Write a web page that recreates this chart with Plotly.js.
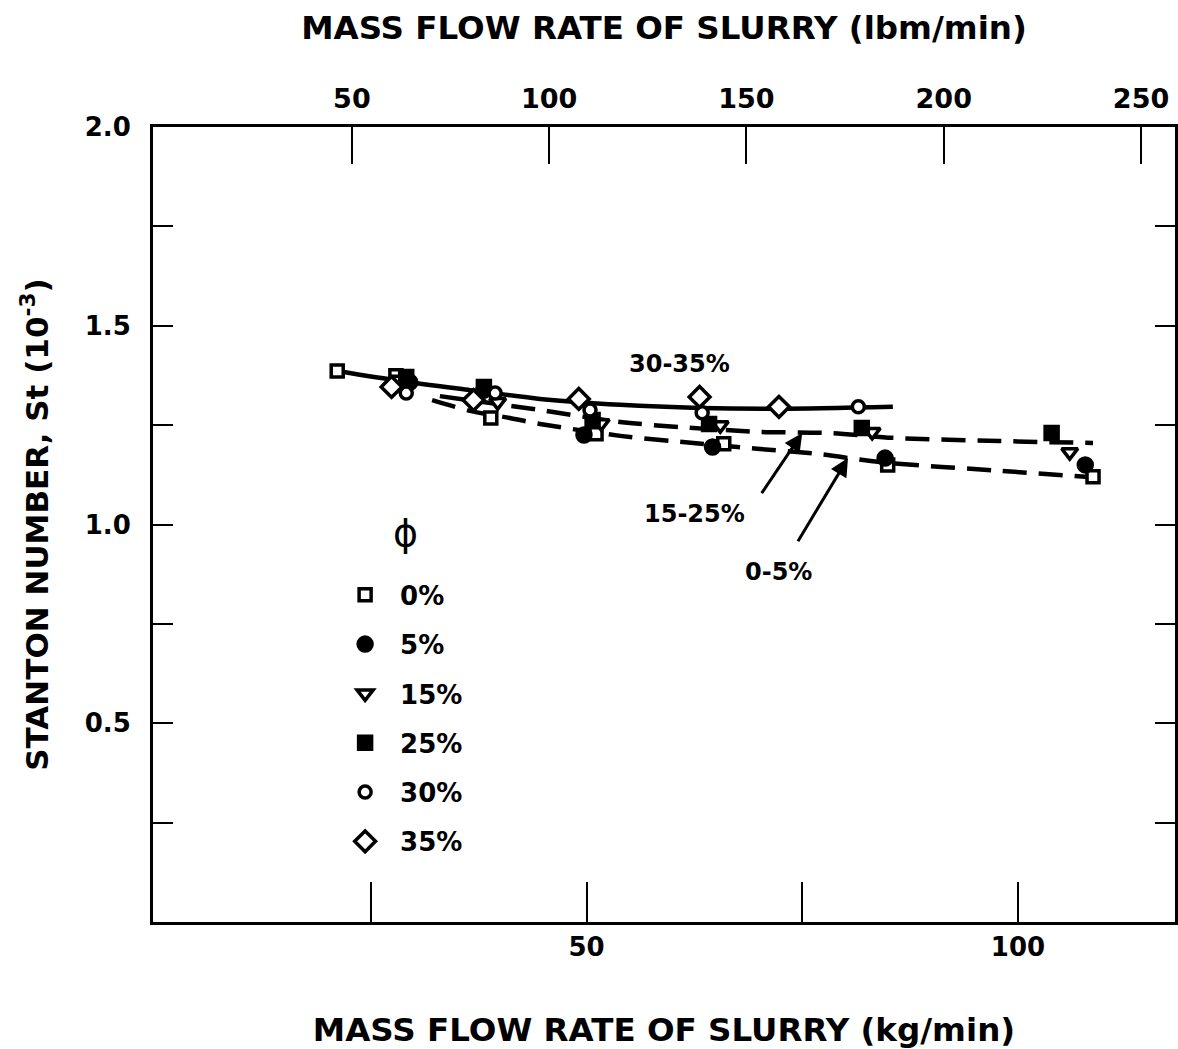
<!DOCTYPE html>
<html><head><meta charset="utf-8">
<script src="https://cdn.plot.ly/plotly-3.0.1.min.js"></script>
<style>html,body{margin:0;padding:0;background:#fff}</style>
</head><body><div id="chart" style="width:1178px;height:1049px"></div>
<script>
// Mass flow rate of slurry (kg/min) and Stanton number (x 10^-3), by solids fraction phi
const phi0_x  = [21.1, 27.9, 38.9, 51.1, 65.9, 84.9, 108.7];
const phi0_y  = [1.386, 1.374, 1.268, 1.228, 1.203, 1.150, 1.120];
const phi5_x  = [29.5, 38.1, 49.7, 64.6, 84.6, 107.8];
const phi5_y  = [1.358, 1.338, 1.225, 1.195, 1.167, 1.150];
const phi15_x = [28.4, 39.7, 51.7, 65.5, 83.1, 106.0];
const phi15_y = [1.364, 1.308, 1.255, 1.250, 1.233, 1.182];
const phi25_x = [29.1, 38.1, 50.7, 64.2, 81.9, 103.9];
const phi25_y = [1.371, 1.346, 1.263, 1.253, 1.243, 1.230];
const phi30_x = [29.1, 39.4, 50.4, 63.4, 81.5];
const phi30_y = [1.331, 1.331, 1.288, 1.281, 1.296];
const phi35_x = [27.4, 36.9, 49.1, 63.1, 72.3];
const phi35_y = [1.346, 1.313, 1.316, 1.321, 1.296];

// fitted curves
const fit3035_x = [21.1, 28.4, 36.5, 44.6, 53.9, 63.1, 72.4, 85.5];
const fit3035_y = [1.386, 1.361, 1.338, 1.316, 1.301, 1.293, 1.291, 1.296];
const fit1525_x = [33.0, 44.6, 53.9, 60.8, 70.1, 78.2, 85.5, 97.9, 108.7];
const fit1525_y = [1.323, 1.288, 1.258, 1.245, 1.233, 1.230, 1.218, 1.210, 1.205];
const fit05_x   = [32.1, 36.5, 41.1, 44.6, 53.9, 60.8, 70.1, 77.0, 84.0, 97.9, 108.7];
const fit05_y   = [1.313, 1.286, 1.268, 1.253, 1.223, 1.208, 1.190, 1.177, 1.157, 1.135, 1.119];

// curve labels
const label3035 = {text: '30-35%', x: 60.8, y: 1.404};
const arrowLabels = ['15-25%', '0-5%'];
const arrowTipX = [75.0, 80.3];
const arrowTipY = [1.230, 1.167];
const arrowTailX = [70.3, 74.5];
const arrowTailY = [1.079, 0.958];

const kgTicks = [50, 100];
const kgMinorTicks = [25, 75];
const lbmTicks = [50, 100, 150, 200, 250];
const stTicks = [0.5, 1.0, 1.5, 2.0];
const stTickText = ['0.5', '1.0', '1.5', '2.0'];
const stMinorTicks = [0.25, 0.75, 1.25, 1.75];
const LB_PER_KG = 2.2046;

const FONT = 'DejaVu Sans, Liberation Sans, Arial, sans-serif';

function curve(x, y, dash) {
  return {x: x, y: y, mode: 'lines', type: 'scatter', showlegend: false, hoverinfo: 'skip',
          line: {color: 'black', width: 4.5, dash: dash, shape: 'spline', smoothing: 0.8}};
}
function pts(name, x, y, symbol, fill, size) {
  return {x: x, y: y, name: name, mode: 'markers', type: 'scatter', legendgroup: name,
          marker: {symbol: symbol, size: size, color: fill, line: {color: 'black', width: 3.5}}};
}

const traces = [
  curve(fit3035_x, fit3035_y, 'solid'),
  curve(fit1525_x, fit1525_y, '24px,12px'),
  curve(fit05_x, fit05_y, '24px,12px'),
  pts('0%', phi0_x, phi0_y, 'square', 'white', 12),
  pts('5%', phi5_x, phi5_y, 'circle', 'black', 14),
  pts('15%', phi15_x, phi15_y, 'triangle-down', 'white', 14),
  pts('25%', phi25_x, phi25_y, 'square', 'black', 13),
  pts('30%', phi30_x, phi30_y, 'circle', 'white', 12),
  pts('35%', phi35_x, phi35_y, 'diamond', 'white', 16),
  // same 0% data expressed in lbm/min on the top axis (invisible, keeps top axis active)
  {x: phi0_x.map(v => v * LB_PER_KG), y: phi0_y, xaxis: 'x2', mode: 'markers', type: 'scatter',
   showlegend: false, hoverinfo: 'skip', marker: {opacity: 0}}
];

const labelFont = {family: FONT, size: 24, weight: 'bold', color: 'black'};
const annotations = [
  {x: label3035.x, y: label3035.y, xref: 'x', yref: 'y', text: label3035.text,
   showarrow: false, font: labelFont},
  // 15-25% : text box to the lower-left of the arrow tail
  {x: arrowTipX[0], y: arrowTipY[0], ax: arrowTailX[0], ay: arrowTailY[0],
   xref: 'x', yref: 'y', axref: 'x', ayref: 'y', text: arrowLabels[0], font: labelFont,
   xanchor: 'right', yanchor: 'top', width: 117, height: 34, align: 'left', valign: 'bottom',
   borderpad: 0, showarrow: true, arrowhead: 2, arrowsize: 1.2, arrowwidth: 3,
   arrowcolor: 'black', standoff: 0},
  // 0-5% : text box below the arrow tail
  {x: arrowTipX[1], y: arrowTipY[1], ax: arrowTailX[1], ay: arrowTailY[1],
   xref: 'x', yref: 'y', axref: 'x', ayref: 'y', text: arrowLabels[1], font: labelFont,
   xanchor: 'center', yanchor: 'top', width: 106, height: 44, align: 'left', valign: 'bottom',
   borderpad: 0, showarrow: true, arrowhead: 2, arrowsize: 1.2, arrowwidth: 3,
   arrowcolor: 'black', standoff: 0},
  // legend heading (solids volume fraction)
  {x: 0.2329, y: 0.489, xref: 'paper', yref: 'paper', text: 'ϕ', showarrow: false,
   font: {family: FONT, size: 38, color: 'black'}}
];

const tickStyle = {ticks: 'inside', tickwidth: 2, tickcolor: 'black'};

const layout = {
  width: 1178, height: 1049,
  margin: {l: 153, r: 3, t: 127, b: 127, pad: 0},
  paper_bgcolor: 'white', plot_bgcolor: 'white',
  font: {family: FONT, color: 'black'},
  showlegend: true,
  legend: {
    x: 0.1733, y: 0.441, xanchor: 'left', yanchor: 'top',
    font: {family: FONT, size: 26, weight: 'bold', color: 'black'},
    tracegroupgap: 12.5, itemwidth: 60, bgcolor: 'rgba(0,0,0,0)', borderwidth: 0
  },
  xaxis: Object.assign({
    range: [-0.25, 118.2], tickmode: 'array', tickvals: kgTicks, ticklen: 40,
    minor: Object.assign({tickmode: 'array', tickvals: kgMinorTicks, ticklen: 40}, tickStyle),
    showline: true, linewidth: 3, linecolor: 'black', mirror: true,
    showgrid: false, zeroline: false,
    tickfont: {family: FONT, size: 26, weight: 'bold', color: 'black'},
    title: {text: 'MASS FLOW RATE OF SLURRY (kg/min)', standoff: 58,
            font: {family: FONT, size: 32.5, weight: 'bold', color: 'black'}}
  }, tickStyle),
  xaxis2: Object.assign({
    overlaying: 'x', side: 'top', anchor: 'y',
    range: [-0.4, 258.6], tickmode: 'array', tickvals: lbmTicks, ticklen: 37,
    showline: false, showgrid: false, zeroline: false, ticklabelstandoff: 13,
    tickfont: {family: FONT, size: 27, weight: 'bold', color: 'black'},
    title: {text: 'MASS FLOW RATE OF SLURRY (lbm/min)', standoff: 33,
            font: {family: FONT, size: 32.5, weight: 'bold', color: 'black'}}
  }, tickStyle),
  yaxis: Object.assign({
    range: [0, 2.0], tickmode: 'array', tickvals: stTicks, ticktext: stTickText, ticklen: 20,
    minor: Object.assign({tickmode: 'array', tickvals: stMinorTicks, ticklen: 20}, tickStyle),
    showline: true, linewidth: 3, linecolor: 'black', mirror: 'ticks',
    showgrid: false, zeroline: false, ticklabelstandoff: 14,
    tickfont: {family: FONT, size: 26, weight: 'bold', color: 'black'},
    title: {text: 'STANTON NUMBER, St (10<sup>-3</sup>)', standoff: 27,
            font: {family: FONT, size: 31, weight: 'bold', color: 'black'}}
  }, tickStyle),
  annotations: annotations
};

Plotly.newPlot('chart', traces, layout, {displayModeBar: false, staticPlot: true}).then(function () {
  // drop empty placeholder text nodes that Plotly leaves behind (they draw nothing)
  document.querySelectorAll('#chart text').forEach(function (t) {
    if (!t.textContent || !t.textContent.trim()) t.remove();
  });
});
</script>
</body></html>
